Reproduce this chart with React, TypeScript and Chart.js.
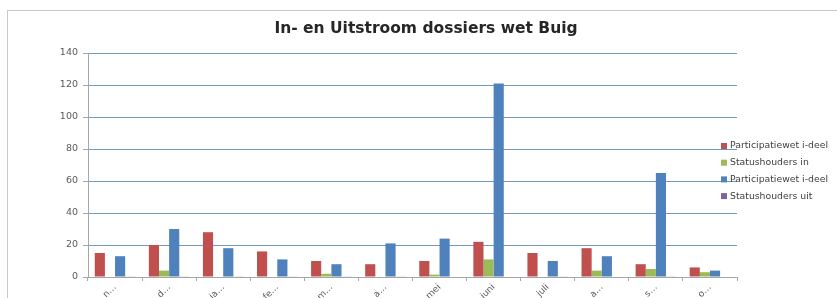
import React, { useEffect, useRef } from 'react';
import { Chart, registerables } from 'chart.js';

Chart.register(...registerables);

const chartTitle = 'In- en Uitstroom dossiers wet Buig';
const categories = ['n…', 'd…', 'ja…', 'fe…', 'm…', 'a…', 'mei', 'juni', 'juli', 'a…', 's…', 'o…'];
const seriesNames = ['Participatiewet i-deel', 'Statushouders in', 'Participatiewet i-deel', 'Statushouders uit'];
const participatieIn = [15, 20, 28, 16, 10, 8, 10, 22, 15, 18, 8, 6];
const statushoudersIn = [0, 4, 0, 0, 2, 0, 1.5, 11, 0, 4, 5, 3];
const participatieUit = [13, 30, 18, 11, 8, 21, 24, 121, 10, 13, 65, 4];
const statushoudersUit = [0.4, 0.4, 0.4, 0.4, 0.4, 0.4, 0, 0, 0.4, 0, 0.4, 0];
const seriesColors = ['#C0504D', '#9BBB59', '#4F81BD', '#8064A2'];
const yTicks = [0, 20, 40, 60, 80, 100, 120, 140];

const overlay = {
  id: 'overlay',
  afterDraw(chart: any) {
    const ctx = chart.ctx;
    ctx.save();
    ctx.fillStyle = '#262626';
    ctx.font = 'bold 15.5px "DejaVu Sans"';
    ctx.textAlign = 'center';
    ctx.textBaseline = 'middle';
    ctx.fillText(chartTitle, 426, 29);
    ctx.font = '9.3px "DejaVu Sans"';
    ctx.textAlign = 'left';
    chart.data.datasets.forEach((ds: any, i: number) => {
      const y = 146 + i * 16.7;
      ctx.fillStyle = ds.backgroundColor;
      ctx.fillRect(721, y - 3, 6, 6);
      ctx.fillStyle = '#404040';
      ctx.fillText(ds.label, 730, y);
    });
    ctx.restore();
  },
};

export default function App() {
  const ref = useRef<HTMLCanvasElement>(null);
  useEffect(() => {
    const values = [participatieIn, statushoudersIn, participatieUit, statushoudersUit];
    const chart = new Chart(ref.current!, {
      type: 'bar',
      data: {
        labels: categories,
        datasets: values.map((v, i) => ({
          label: seriesNames[i],
          data: v,
          backgroundColor: seriesColors[i],
          categoryPercentage: 0.75,
          barPercentage: 1,
        })),
      },
      options: {
        responsive: false,
        animation: false,
        devicePixelRatio: 1,
        layout: { padding: { left: 0, right: 100, top: 53, bottom: 0 } },
        plugins: { legend: { display: false }, title: { display: false }, tooltip: { enabled: false } },
        scales: {
          x: {
            grid: { offset: true, drawOnChartArea: false, tickLength: 4, color: '#a6a6a6' },
            border: { color: '#a6a6a6' },
            ticks: { maxRotation: 45, minRotation: 45, font: { size: 9, family: 'DejaVu Sans' }, color: '#595959', padding: 1 },
            afterFit: (s: any) => { s.height = 21; },
          },
          y: {
            min: 0,
            max: 140,
            afterBuildTicks: (s: any) => { s.ticks = yTicks.map((v) => ({ value: v })); },
            ticks: { font: { size: 9.5, family: 'DejaVu Sans' }, color: '#595959', padding: 5 },
            grid: { color: '#6f98c2', tickColor: '#a6a6a6', tickLength: 5 },
            border: { color: '#a6a6a6' },
            afterFit: (s: any) => { s.width = 88; },
          },
        },
      },
      plugins: [overlay],
    });
    return () => chart.destroy();
  }, []);
  return (
    <div style={{ position: 'fixed', left: 0, top: 0, width: 837, height: 298, background: '#fff', overflow: 'hidden' }}>
      <div style={{ position: 'absolute', left: 7, top: 10, width: 900, height: 400, border: '1px solid #c8c8c8' }} />
      <canvas ref={ref} width={837} height={298} style={{ position: 'absolute', left: 0, top: 0 }} />
    </div>
  );
}
